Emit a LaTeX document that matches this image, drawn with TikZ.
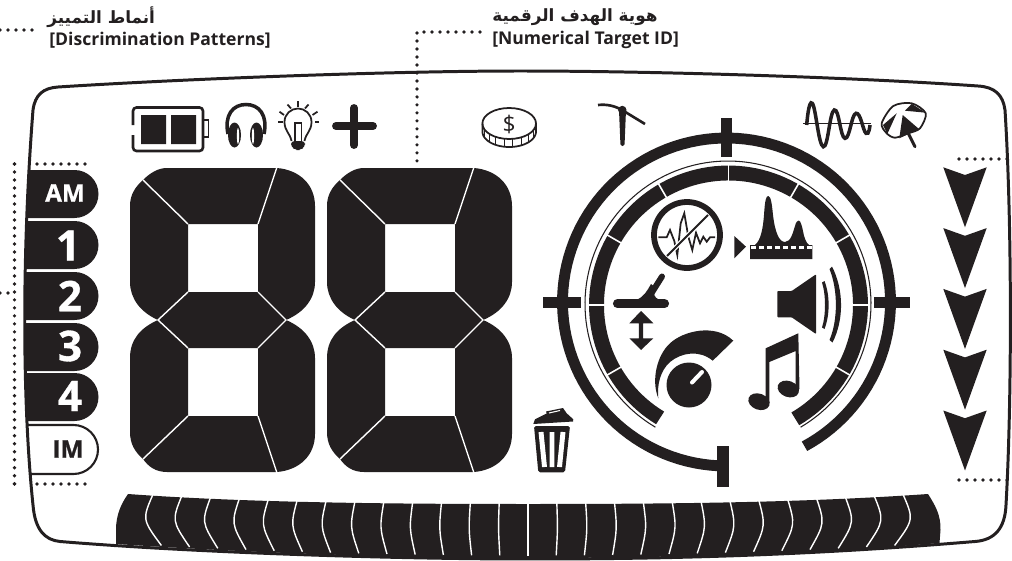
\documentclass[tikz,border=0pt]{standalone}
\usepackage{fontspec}
\setmainfont{Open Sans}
\newfontfamily\labelfont{Open Sans Bold}
\newfontfamily\pillfont{Open Sans Bold}[FakeBold=0.8]
\newfontfamily\arabicfont[Script=Arabic]{DejaVu Sans}
\TeXXeTstate=1
\usepackage{tikz}
\definecolor{lcdblack}{RGB}{35,31,32}
\tikzset{
  leader/.style={lcdblack,line width=2.1pt,line cap=round,dash pattern=on 0pt off 4.55pt},
  framerim/.style={lcdblack,line width=1.7pt},
  icon/.style={lcdblack,line width=1pt},
  solid fill/.style={fill=lcdblack},
  sepline/.style={white,line width=0.8pt},
  englabel/.style={lcdblack,anchor=west,inner sep=0pt,font=\labelfont\fontsize{10}{12}\selectfont},
  arlabel/.style={lcdblack,anchor=west,inner sep=0pt,font=\arabicfont\bfseries\fontsize{9.6}{12}\selectfont},
  pilltext/.style={white,inner sep=0pt,font=\pillfont\fontsize{#1}{#1}\selectfont},
  pilltext/.default=13.8
}
\begin{document}
\begin{tikzpicture}[x=0.02cm,y=-0.02cm]
  \useasboundingbox (0,0) rectangle (1012,561);
  \node[arlabel] (discAr) at (47,17) {\beginR أنماط التمييز\endR};
  \node[englabel] (discEn) at (49,40) {[Discrimination Patterns]};
  \node[arlabel] (numAr) at (492,17) {\beginR هوية الهدف الرقمية\endR};
  \node[englabel] (numEn) at (492,40) {[Numerical Target ID]};
  \coordinate (discEnd) at (38,30);
  \coordinate (discStart) at (0,30);
  \coordinate (numEnd) at (480,32);
  \coordinate (numCorner) at (417,32);
  \coordinate (numFoot) at (417,163);
  \draw[leader] (discStart) -- (discEnd);
  \draw[leader] (numEnd) -- (numCorner) -- (numFoot);
  \draw[leader] (14.5,164) -- (14.5,484);
  \draw[leader] (14.5,164) -- (22,164);
  \draw[leader] (37,164) -- (85,164);
  \draw[leader] (14.5,484) -- (22,484);
  \draw[leader] (37,484) -- (85,484);
  \draw[leader] (0,293) -- (14.5,293);
  \draw[leader] (1007,159) -- (952,159);
  \draw[leader] (1007,480) -- (952,480);
  \fill[solid fill] (128,494) .. controls (250,503) and (400,504) .. (528,504)
    .. controls (660,504) and (800,503) .. (928,494)
    .. controls (935,505) and (941,515) .. (940.5,530) -- (939.5,543)
    .. controls (800,555) and (650,558) .. (528,558)
    .. controls (400,558) and (250,553) .. (116,544) -- (116,530)
    .. controls (116,515) and (121,504) .. (128,494) -- cycle;
  \foreach \i in {-13,...,13} {
    \pgfmathsetmacro{\xt}{528+28.8*\i}
    \pgfmathsetmacro{\xb}{528+28.2*\i}
    \pgfmathsetmacro{\xc}{528+29.69*\i}
    \pgfmathsetmacro{\yt}{502-9*(\i/13)^2}
    \pgfmathsetmacro{\yb}{555.5-10*(\i/13)^2}
    \draw[sepline] (\xt,\yt) .. controls (\xc,{(\yt+\yb)/2}) .. (\xb,\yb);
  }
  \draw[framerim] (58,87) .. controls (200,78) and (400,71) .. (520,71)
    .. controls (650,71) and (850,77) .. (978,86)
    .. controls (995,87) and (1003,95) .. (1005,110)
    .. controls (1012,220) and (1012,400) .. (1006,505)
    .. controls (1005,528) and (995,540) .. (975,541.5)
    .. controls (800,556) and (660,559) .. (528,559)
    .. controls (400,559) and (200,553) .. (60,541.5)
    .. controls (45,540) and (35,530) .. (33,505)
    .. controls (22,400) and (22,250) .. (33,110)
    .. controls (35,95) and (43,88) .. (58,87) -- cycle;
  \foreach \ptop/\lt/\lb in {170/29/26.5,221/26.5/25,272/25/24.7,323/24.7/25,373/25/27}
    \fill[solid fill] (\lt,\ptop) -- (74.5,\ptop) arc[start angle=-90,end angle=90,radius=24] -- (\lb,\ptop+48) -- cycle;
  \draw[icon,line width=1.2pt] (27,425) -- (73.5,425) arc[start angle=-90,end angle=90,radius=24.5] -- (30,474);
  \node[pilltext] (pillAM) at (65,193) {AM};
  \node[pilltext=24] (pillOne) at (68,245.5) {1};
  \node[pilltext=24] (pillTwo) at (70,296) {2};
  \node[pilltext=24] (pillThree) at (70,346) {3};
  \node[pilltext=24] (pillFour) at (70,396) {4};
  \node[pilltext,lcdblack] (pillIM) at (68,449) {IM};
  \foreach \dx in {0,197} {
    \begin{scope}[shift={(\dx,0)}]
      \fill[solid fill,even odd rule] (167,168) -- (277,168) .. controls (300,170) and (315,185) .. (315,206)
        -- (315,282) .. controls (315,298) and (305,312) .. (286,320)
        .. controls (305,328) and (315,342) .. (315,358) -- (315,434)
        .. controls (315,455) and (300,470) .. (277,472) -- (167,472)
        .. controls (155,472) and (148,466) .. (143,459)
        .. controls (135,452) and (130,444) .. (130,432) -- (130,358)
        .. controls (130,340) and (140,328) .. (158,320)
        .. controls (140,312) and (130,298) .. (130,282) -- (130,206)
        .. controls (130,195) and (135,187) .. (143,180)
        .. controls (150,173) and (158,168) .. (167,168) -- cycle
        (188,224) rectangle (258,292) (188,348) rectangle (258,416);
      \draw[sepline] (143,180) -- (188,224);
      \draw[sepline] (277,167) -- (258,224);
      \draw[sepline] (188,292) -- (158,320) -- (188,348);
      \draw[sepline] (258,292) -- (286,320) -- (258,348);
      \draw[sepline] (188,416) -- (143,459);
      \draw[sepline] (258,416) -- (277,473);
    \end{scope}
  }
  \foreach \dy in {0,1,2,3,4}
    \fill[solid fill] (943.3,167.3+60.8*\dy) -- (965,175+60.8*\dy) -- (986.7,167.3+60.8*\dy) -- (965,227.3+60.8*\dy) -- cycle;
  \draw[icon,line width=1.5pt,rounded corners=2pt] (133,125) -- (133,107.5) -- (203,107.5) -- (203,151) -- (133,151) -- (133,135);
  \draw[icon] (204,120) -- (208.5,120) -- (208.5,137) -- (204,137);
  \fill[solid fill] (141,115) rectangle (166,144) (171,115) rectangle (196,144);
  \draw[icon,line width=2pt] (228,134) .. controls (224,115) and (233,104.5) .. (246,104.5) .. controls (259,104.5) and (268,115) .. (264,134);
  \fill[solid fill] (234.5,135) ellipse[x radius=6.5,y radius=12.5] (256.5,135) ellipse[x radius=6.5,y radius=12.5];
  \fill[white] (238,136) ellipse[x radius=1.1,y radius=8] (253,136) ellipse[x radius=1.1,y radius=8];
  \draw[icon] (291.5,141) .. controls (290,133) and (284.5,131) .. (284.5,122) .. controls (284.5,114) and (291,108.5) .. (298,108.5)
    .. controls (305,108.5) and (311.5,114) .. (311.5,122) .. controls (311.5,131) and (306,133) .. (304.5,141);
  \draw[icon,line width=0.7pt] (295,141) -- (295,123) -- (301.5,123) -- (301.5,141);
  \fill[solid fill,rounded corners=2pt] (291,141) -- (305,141) -- (305,147) -- (300,150) -- (296,150) -- (291,147) -- cycle;
  \foreach \rx/\ry/\sx/\sy in {278/122.3/283/122.3,279.5/111.7/284/115,287.5/104.5/291/108.5,298/101/298/106.7,308.5/104.5/305/108.5,317.5/111.7/312.5/115,319/122.3/314.5/122.3}
    \draw[icon] (\rx,\ry) -- (\sx,\sy);
  \draw[lcdblack,line width=4.5pt,line cap=round] (354,108) -- (354,145) (336,126) -- (373,126);
  \foreach \t in {25,44,...,160}
    \draw[icon,line width=0.5pt] ({509.2+26.8*cos(\t)},{123.5+15.5*sin(\t)}) -- ({509.2+26.8*cos(\t)},{131.5+15.5*sin(\t)});
  \draw[icon] (509.2,123.5) ellipse[x radius=26.8,y radius=15.5];
  \draw[icon,domain=0:180,samples=40,variable=\t] (536,123.5) -- plot ({509.2+26.8*cos(\t)},{131.5+15.5*sin(\t)}) -- (482.4,123.5);
  \node[lcdblack,inner sep=0pt,font=\fontsize{13}{13}\selectfont] (coinSign) at (509.2,124.5) {\$};
  \fill[solid fill,rounded corners=1pt] (619,110) -- (626,110) -- (624.5,146) -- (620.5,146) -- cycle;
  \fill[solid fill] (622.3,110) circle (4.2);
  \draw[icon,line width=1.5pt] (598,105) .. controls (607,104) and (615,106) .. (622,110);
  \draw[icon,line width=1.5pt] (622,110) -- (645,124);
  \draw[icon,line width=0.8pt] (803,123.5) -- (871,123.5);
  \draw[icon,line width=2pt] plot[smooth,tension=0.8] coordinates {(806.7,125) (812.3,103.3) (823.3,146.7) (834.3,110) (845,138.3) (856,113.3) (866,133.3) (870,125)};
  \draw[icon,fill=white] plot[smooth cycle] coordinates {(893.3,106) (911.7,103.3) (925.7,113.3) (920,128.3) (908.3,133.3) (895,137.7) (886.7,133.3) (881.7,123.3)};
  \fill[solid fill] (902.7,115) -- (919.3,129.3) -- (908.3,134) -- (899.3,138.3) -- cycle;
  \fill[solid fill] (896.7,113.3) -- (883,125) -- (887.3,134) -- cycle;
  \fill[solid fill] (905,110.7) -- (911.7,103.8) -- (925.7,112.7) -- cycle;
  \draw[icon,line width=1.7pt,line cap=round] (908.3,133.3) -- (915,146.7);
  \draw[lcdblack,line width=6.2pt,domain=90:421.6,samples=120,variable=\t] plot ({726.5+164*cos(\t)},{302+164*sin(\t)});
  \fill[solid fill] (721,118) rectangle (732,157);
  \fill[solid fill] (543,297) rectangle (581,308);
  \fill[solid fill] (874,297) rectangle (910,308);
  \fill[solid fill] (717,446) rectangle (729,487);
  \draw[icon,line width=0.6pt,domain=120.5:419.5,samples=120,variable=\t] plot ({728+143*cos(\t)},{304+143*sin(\t)});
  \draw[lcdblack,line width=8.5pt,domain=121.2:419.6,samples=120,variable=\t] plot ({728.5+132*cos(\t)},{305+132*sin(\t)});
  \foreach \a in {150,180,...,390}
    \draw[white,line width=0.9pt] ({728.5+122*cos(\a)},{305+122*sin(\a)}) -- ({728.5+141*cos(\a)},{305+141*sin(\a)});
  \draw[icon,line width=3.3pt] (687,235) circle (33);
  \draw[icon,line width=1pt] plot coordinates {(658.3,237.3) (666.7,237.3) (670,230) (674.3,241) (677.3,255) (680.7,223.3) (684.3,213.3) (688.3,236.7) (692.3,250) (696,232.7) (700,243.3) (703.3,236.7) (706.7,241.7) (710,237.3) (715,237.3)};
  \draw[white,line width=2.6pt] (667,256) -- (708,215);
  \draw[icon,line width=1.2pt] (667,256) -- (708,215);
  \fill[solid fill] (734.3,236) -- (746,246.7) -- (734.3,258.3) -- cycle;
  \fill[solid fill] (750,245) -- (755,245) .. controls (761,240) and (763,228) .. (764,215) .. controls (765,200) and (766,196) .. (768.3,196)
    .. controls (771,196) and (772,205) .. (773,215) .. controls (775,232) and (779,242) .. (785,242)
    .. controls (791,242) and (793,232) .. (795,226) .. controls (796,222) and (797.5,220.5) .. (798.7,220.5)
    .. controls (800.5,220.5) and (802,226) .. (803,231) .. controls (804,237) and (806,243) .. (809,245)
    -- (812.3,245) -- (812.3,259) -- (750,259) -- cycle;
  \draw[white,line width=1.7pt,dash pattern=on 3.1pt off 1.45pt] (751,247.7) -- (812,247.7);
  \fill[solid fill,rounded corners=0.5pt] (777.3,291) -- (791.7,291) -- (816,274.3) -- (816,334) -- (791.7,317.3) -- (777.3,317.3) -- cycle;
  \fill[solid fill] (822,282.5) -- (824.5,281) .. controls (830,295) and (830,315) .. (824.5,329) -- (822,327.5)
    .. controls (826,315) and (826,295) .. (822,282.5) -- cycle;
  \fill[solid fill] (829.5,269) -- (832,266.5) .. controls (844,290) and (844,320) .. (832.5,342.5) -- (829.5,340)
    .. controls (838,320) and (838,290) .. (829.5,269) -- cycle;
  \draw[lcdblack,line width=5.2pt,line cap=round] (617.5,303.7) -- (664.5,303.7);
  \draw[lcdblack,line width=3.4pt,line cap=round] (662,276.5) -- (651,294);
  \fill[solid fill] (636,300) .. controls (644,297) and (647,291) .. (651,284) -- (656,288) .. controls (653,294) and (653,297) .. (660,300) -- cycle;
  \fill[solid fill] (641,311) -- (653.3,323.3) -- (643.2,323.3) -- (643.2,338.3) -- (653.3,338.3) -- (641,350) -- (629.3,338.3) -- (638.8,338.3) -- (638.8,323.3) -- (629.3,323.3) -- cycle;
  \fill[solid fill] (658.3,398.3) .. controls (651,380) and (657,355) .. (670,343.3)
    .. controls (683,331) and (715,323) .. (733.3,340.7) -- (712.7,360.7)
    .. controls (700,350) and (682,352) .. (670,362) .. controls (660,371) and (657,385) .. (658.3,398.3) -- cycle;
  \fill[solid fill] (689,385) circle (22.5);
  \draw[white,line width=2.3pt,line cap=round] (692,382.5) -- (702,372);
  \fill[solid fill] (765.7,348.3) -- (798.3,333.3) -- (799.5,389) -- (795.7,389) -- (795.7,351) -- (769.3,362) -- (769.3,403) -- (765.7,403) -- cycle;
  \fill[solid fill,rotate around={-20:(759,401.7)}] (759,401.7) ellipse[x radius=11,y radius=8];
  \fill[solid fill,rotate around={-20:(788.3,389)}] (788.3,389) ellipse[x radius=11,y radius=8];
  \fill[solid fill,rounded corners=1pt] (534,426) -- (570,426) -- (565,472.3) -- (538.3,472.3) -- cycle;
  \draw[white,line width=2.8pt] (541,432) -- (544.5,467) (552,432) -- (552,467) (563,432) -- (559.5,467);
  \fill[solid fill] (533.3,424) -- (535,419.3) -- (546.7,413.5) -- (546,411.5) -- (563,408) -- (566.7,413.3) -- (573.3,419.3) -- (573,421.5) -- cycle;
  \draw[white,line width=0.6pt] (549,413) -- (560,410.5);
\end{tikzpicture}
\end{document}
